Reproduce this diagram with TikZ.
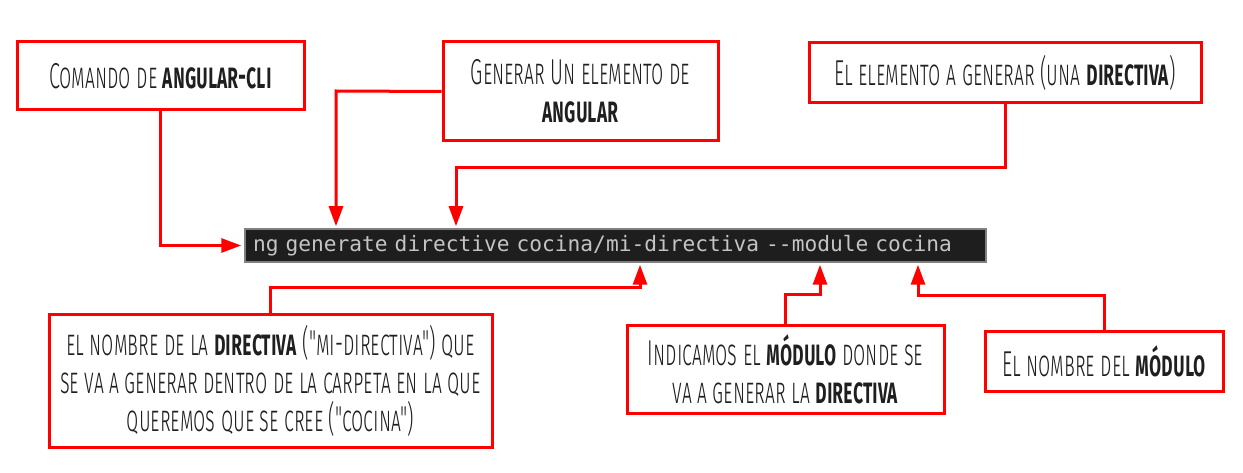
\documentclass[tikz,border=0pt]{standalone}
\usepackage{fontspec}
\usetikzlibrary{arrows.meta}
\newfontfamily\handfont[Letters=SmallCaps,FakeStretch=0.55,UprightFont={* Light},BoldFont={* SemiBold}]{Fira Sans}
\setmonofont{DejaVu Sans Mono}
\definecolor{notered}{HTML}{FF0000}
\definecolor{termbg}{HTML}{1E1E1E}
\definecolor{termline}{HTML}{808080}
\definecolor{termtext}{HTML}{C4C4C4}

\begin{document}
\begin{tikzpicture}[x=1pt,y=-1pt,
    note/.style={draw=notered,line width=3pt,fill=white,inner sep=0pt,align=center,
      font=\handfont\fontsize{36}{38}\selectfont,text=black!88},
    conn/.style={draw=notered,line width=3pt,-{Triangle[length=20pt,width=14pt]},shorten >=2pt}]
      \useasboundingbox (0,0) rectangle (1243,473);

      \node[note,minimum width=287pt,minimum height=68pt] (cli) at (160.5,76) {Comando de \textbf{angular-cli}};
      \node[note,minimum width=275pt,minimum height=99pt] (gen) at (580.5,91.5) {Generar Un elemento de\\ \textbf{angular}};
      \node[note,minimum width=392pt,minimum height=60pt] (elem) at (1005,73) {El elemento a generar (una \textbf{directiva})};
      \node[draw=termline,line width=1.5pt,fill=termbg,text=termtext,
        font=\ttfamily\fontsize{21.2}{22}\selectfont,
        text width=725pt,align=left,inner xsep=8pt,inner ysep=0pt,minimum height=33pt] (cmd) at (615.5,245.5)
        {ng generate directive cocina/mi-directiva -{}-module cocina};
      \node[note,minimum width=443pt,minimum height=133pt] (nombre) at (270.5,380.5)
        {el nombre de la \textbf{directiva} ("mi-directiva") que\\ se va a generar dentro de la carpeta en la que\\ queremos que se cree ("cocina")};
      \node[note,minimum width=317pt,minimum height=88pt] (modulo) at (785.5,369) {Indicamos el \textbf{módulo} donde se\\ va a generar la \textbf{directiva}};
      \node[note,minimum width=238pt,minimum height=60pt] (modname) at (1104,361) {El nombre del \textbf{módulo}};

      \coordinate (genbend) at (336,91);
      \coordinate (elembend) at (456,168);
      \coordinate (nombrebend) at (640,288);
      \coordinate (modulobend) at (820,295);
      \coordinate (modnamebend) at (918,296);

      \draw[conn,shorten >=3pt] (cli.south) -- (cli |- cmd) -- (cmd.west);
      \draw[conn] (gen.west) -- (genbend) -- (genbend |- cmd.north);
      \draw[conn] (elem.south) -- (elem.south |- elembend) -- (elembend) -- (elembend |- cmd.north);
      \draw[conn] (nombre.north) -- (nombre.north |- nombrebend) -- (nombrebend) -- (nombrebend |- cmd.south);
      \draw[conn] (modulo.north) -- (modulo.north |- modulobend) -- (modulobend) -- (modulobend |- cmd.south);
      \draw[conn] (modname.north) -- (modname.north |- modnamebend) -- (modnamebend) -- (modnamebend |- cmd.south);
    \end{tikzpicture}
\end{document}
